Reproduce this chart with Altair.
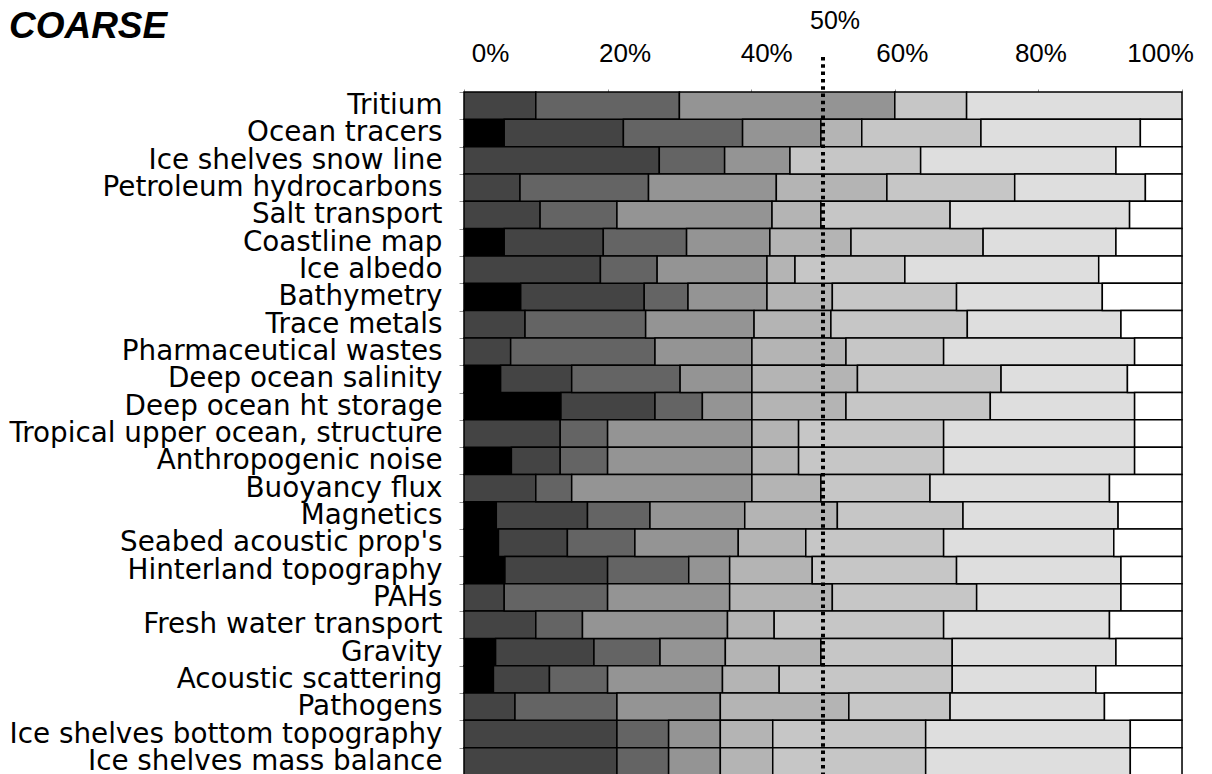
import altair as alt
import pandas as pd

categories = [
    "Tritium", "Ocean tracers", "Ice shelves snow line", "Petroleum hydrocarbons",
    "Salt transport", "Coastline map", "Ice albedo", "Bathymetry", "Trace metals",
    "Pharmaceutical wastes", "Deep ocean salinity", "Deep ocean ht storage",
    "Tropical upper ocean, structure", "Anthropogenic noise", "Buoyancy flux",
    "Magnetics", "Seabed acoustic prop's", "Hinterland topography", "PAHs",
    "Fresh water transport", "Gravity", "Acoustic scattering", "Pathogens",
    "Ice shelves bottom topography", "Ice shelves mass balance",
]

levels = ["L1", "L2", "L3", "L4", "L5", "L6", "L7", "L8"]
level_colors = ["#000000", "#444444", "#646464", "#949494", "#b4b4b4", "#c6c6c6", "#dedede", "#ffffff"]

# segment shares (%) per level, one value per category (top to bottom)
L1 = [0, 5.6, 0, 0, 0, 5.6, 0, 7.9, 0, 0, 5.1, 13.5, 0, 6.6, 0, 4.5, 4.8, 5.7, 0, 0, 4.4, 4.1, 0, 0, 0]
L2 = [10.0, 16.6, 27.2, 7.8, 10.6, 13.8, 19.0, 17.2, 8.5, 6.5, 9.9, 13.1, 13.4, 6.8, 10.0, 12.7, 9.6, 14.3, 5.6, 10.0, 13.7, 7.8, 7.1, 21.3, 21.3]
L3 = [20.0, 16.6, 9.1, 17.9, 10.7, 11.6, 7.9, 6.1, 16.8, 20.1, 15.1, 6.6, 6.6, 6.6, 5.0, 8.7, 9.4, 11.3, 14.4, 6.5, 9.2, 8.1, 14.2, 7.2, 7.2]
L4 = [30.0, 10.9, 9.1, 17.8, 21.6, 11.6, 15.3, 11.0, 15.1, 13.5, 10.0, 6.9, 20.1, 20.1, 25.1, 13.2, 14.4, 5.7, 17.0, 20.2, 9.1, 16.0, 14.4, 7.2, 7.2]
L5 = [0, 5.7, 0, 15.4, 6.8, 11.3, 3.9, 9.1, 10.7, 13.1, 14.7, 13.1, 6.5, 6.5, 9.6, 12.9, 9.4, 11.5, 14.3, 6.5, 13.3, 7.9, 17.9, 7.3, 7.3]
L6 = [10.0, 16.6, 18.2, 17.8, 18.0, 18.4, 15.3, 17.3, 19.0, 13.6, 20.0, 20.1, 20.2, 20.2, 15.2, 17.5, 19.2, 20.1, 20.1, 23.6, 18.3, 24.1, 14.1, 21.3, 21.3]
L7 = [30.0, 22.2, 27.2, 18.2, 25.0, 18.5, 27.0, 20.3, 21.4, 26.6, 17.6, 20.1, 26.6, 26.6, 25.0, 21.6, 23.7, 22.9, 20.1, 23.1, 22.8, 20.0, 21.5, 28.5, 28.5]
L8 = [0, 5.8, 9.2, 5.1, 7.3, 9.2, 11.6, 11.1, 8.5, 6.6, 7.6, 6.6, 6.6, 6.6, 10.1, 8.9, 9.5, 8.5, 8.5, 10.1, 9.2, 12.0, 10.8, 7.2, 7.2]

tick_values = [0, 0.2, 0.4, 0.6, 0.8, 1.0]
half_value = [0.5]
half_label = ["50%"]
title_text = "COARSE"

series = [L1, L2, L3, L4, L5, L6, L7, L8]
rows = []
for j, (lvl, vals) in enumerate(zip(levels, series)):
    for cat, v in zip(categories, vals):
        rows.append({"cat": cat, "level": lvl, "idx": j, "w": v})
df = pd.DataFrame(rows)
df_half = pd.DataFrame({"x": half_value, "label": half_label})

W, H = 718, 683

label_offset = {
    "condition": [
        {"test": "datum.value < 0.1", "value": 26},
        {"test": "datum.value < 0.3", "value": 17},
        {"test": "datum.value < 0.5", "value": 15},
        {"test": "datum.value < 0.7", "value": 7},
        {"test": "datum.value < 0.9", "value": 2},
    ],
    "value": -22,
}

bars = alt.Chart(df).transform_filter("datum.w > 0").mark_bar(
    stroke="#000000", strokeWidth=1.5
).encode(
    x=alt.X("w:Q", stack="normalize",
            scale=alt.Scale(domain=[0, 1], nice=False),
            axis=alt.Axis(orient="top", format="%", values=tick_values, title=None,
                          labelFont="Liberation Sans", labelFontSize=26, labelColor="#000000",
                          labelPadding=23, tickSize=3, tickColor="#909090", domain=False,
                          grid=False, labelFlush=False, labelOffset=label_offset)),
    y=alt.Y("cat:N", sort=categories,
            scale=alt.Scale(paddingInner=0, paddingOuter=0),
            axis=alt.Axis(title=None, labelFont="DejaVu Sans", labelFontSize=27.8,
                          labelColor="#000000", labelLimit=0, labelPadding=17,
                          tickSize=5, tickColor="#909090", tickBand="extent",
                          domain=False)),
    color=alt.Color("level:N", scale=alt.Scale(domain=levels, range=level_colors), legend=None),
    order=alt.Order("idx:Q"),
)

rule = alt.Chart(df_half).mark_rule(
    color="#000000", strokeWidth=4, strokeDash=[3.5, 3.8]
).encode(
    x=alt.X("x:Q"),
    y=alt.value(-35),
    y2=alt.value(H),
)

half_text = alt.Chart(df_half).mark_text(
    font="Liberation Sans", fontSize=25, color="#000000", align="center", baseline="middle", dx=12
).encode(
    x=alt.X("x:Q"),
    y=alt.value(-71),
    text="label:N",
)

chart = alt.layer(bars, rule, half_text).properties(
    width=W, height=H,
    padding={"left": 0, "top": 0, "right": 5, "bottom": 0},
    title=alt.TitleParams(title_text, anchor="start", font="Liberation Sans", fontSize=37,
                          fontWeight="bold", fontStyle="italic", color="#000000", offset=0, dy=37),
).configure_view(stroke=None).configure(background="#ffffff")

chart.save("out.html", embed_options={"renderer": "svg", "actions": False})
